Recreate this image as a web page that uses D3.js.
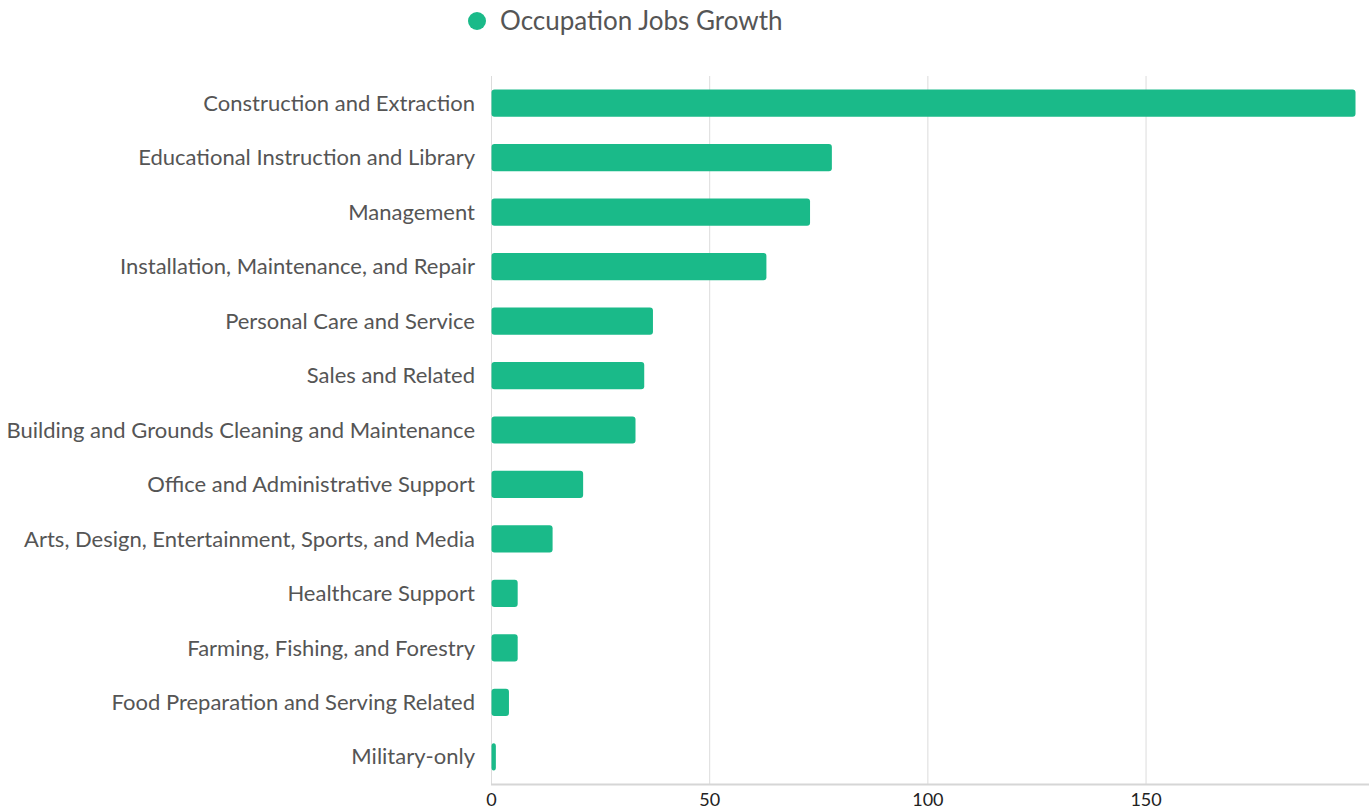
<!DOCTYPE html>
<html>
<head>
<meta charset="utf-8">
<script src="https://cdn.jsdelivr.net/npm/d3@7"></script>
<style>
  body { margin: 0; background: #fff; font-family: Lato, "Open Sans", sans-serif; }
</style>
</head>
<body>
<div id="chart"></div>
<script>
// Chart data.
const categories = [
    "Construction and Extraction",
    "Educational Instruction and Library",
    "Management",
    "Installation, Maintenance, and Repair",
    "Personal Care and Service",
    "Sales and Related",
    "Building and Grounds Cleaning and Maintenance",
    "Office and Administrative Support",
    "Arts, Design, Entertainment, Sports, and Media",
    "Healthcare Support",
    "Farming, Fishing, and Forestry",
    "Food Preparation and Serving Related",
    "Military-only"
];
const values = [198, 78, 73, 63, 37, 35, 33, 21, 14, 6, 6, 4, 1];
const xTicks = [0, 50, 100, 150];
const seriesName = "Occupation Jobs Growth";

// Canvas dimensions and plot area.
const width = 1369, height = 811;
const plotLeft = 491, plotRight = 1355, plotTop = 76, plotBottom = 784;
const green = "#1aba89";

const svg = d3.select("#chart").append("svg")
    .attr("width", width)
    .attr("height", height);

const x = d3.scaleLinear()
    .domain([0, d3.max(values)])
    .range([plotLeft, plotRight]);

const y = d3.scaleBand()
    .domain(categories)
    .range([plotTop, plotBottom])
    .paddingInner(0.5)
    .paddingOuter(0.25);

// Gridlines.
svg.append("g")
    .selectAll("line")
    .data(xTicks)
    .join("line")
        .attr("x1", d => x(d) + 0.5)
        .attr("x2", d => x(d) + 0.5)
        .attr("y1", plotTop)
        .attr("y2", plotBottom)
        .style("stroke", "#dcdcdc")
        .style("stroke-width", 1);

// Bottom axis.
const xAxis = svg.append("g")
    .attr("transform", "translate(0," + (plotBottom + 0.5) + ")")
    .call(d3.axisBottom(x).tickValues(xTicks).tickSize(0).tickPadding(9));

xAxis.select(".domain")
    .attr("d", "M" + plotLeft + ",0H" + width)
    .style("stroke", "#d6d6d6")
    .style("stroke-width", 2);

xAxis.selectAll("text")
    .style("font-family", "Lato, sans-serif")
    .style("font-size", "18px")
    .style("fill", "#222");

// Bars.
svg.append("g")
    .selectAll("rect")
    .data(values)
    .join("rect")
        .attr("x", x(0) + 0.5)
        .attr("y", (d, i) => y(categories[i]))
        .attr("width", d => x(d) - x(0))
        .attr("height", y.bandwidth())
        .attr("rx", 3)
        .style("fill", green);

// Category labels.
svg.append("g")
    .selectAll("text")
    .data(categories)
    .join("text")
        .attr("x", plotLeft - 16)
        .attr("y", d => y(d) + y.bandwidth() / 2)
        .attr("dy", "0.35em")
        .attr("text-anchor", "end")
        .style("font-family", "Lato, sans-serif")
        .style("font-size", "22px")
        .style("fill", "#555")
        .text(d => d);

// Legend.
const legend = svg.append("g");
legend.append("circle")
    .attr("cx", 477)
    .attr("cy", 21)
    .attr("r", 9)
    .style("fill", green);
legend.append("text")
    .attr("x", 500)
    .attr("y", 21)
    .attr("dy", "0.35em")
    .style("font-family", "Lato, sans-serif")
    .style("font-size", "26px")
    .style("fill", "#555")
    .text(seriesName);
</script>
</body>
</html>
